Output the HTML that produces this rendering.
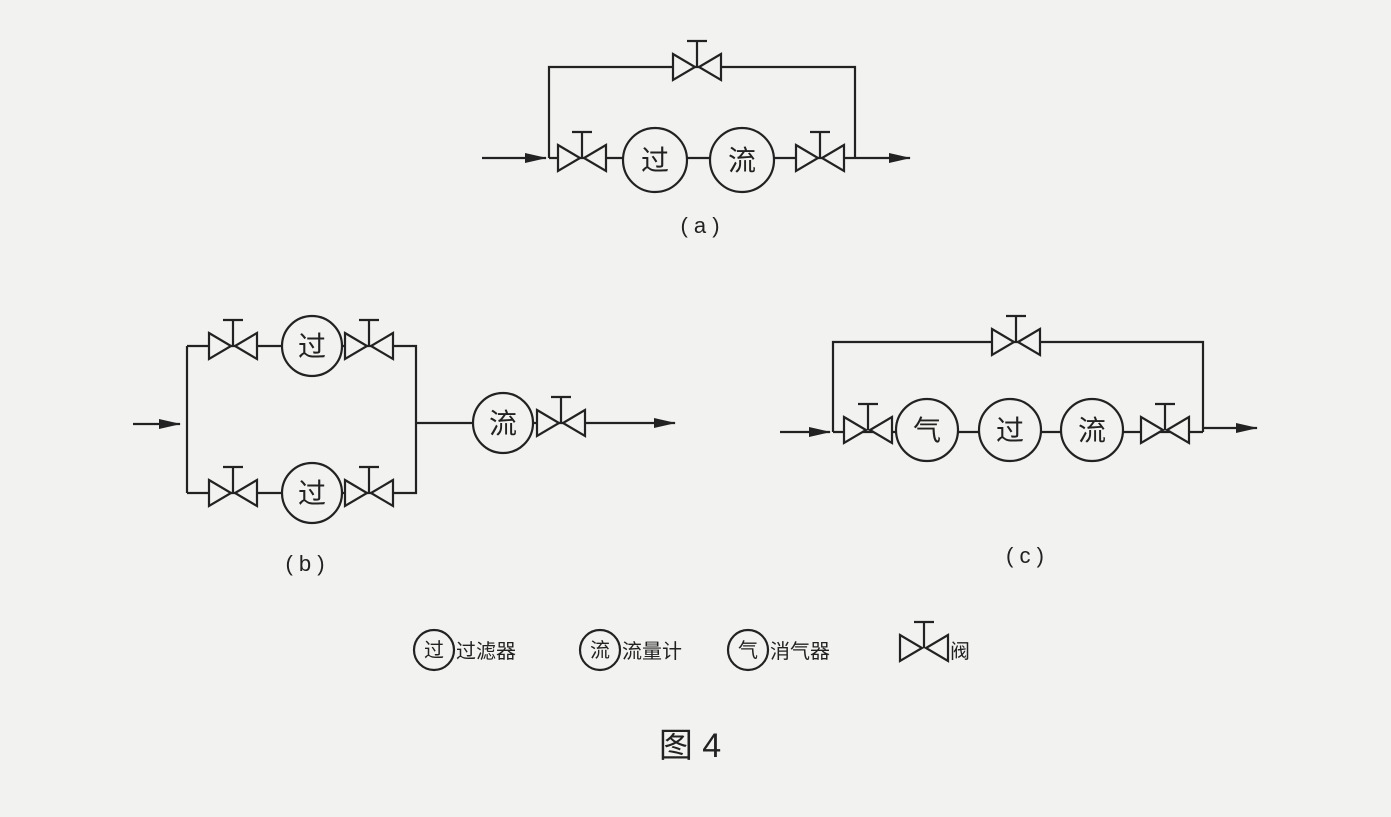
<!DOCTYPE html>
<html><head><meta charset="utf-8"><style>
html,body{margin:0;padding:0;background:#f2f2f0;}
svg{display:block}
text{font-family:"Liberation Sans","Noto Sans CJK SC",sans-serif;fill:#222}
</style></head><body>
<svg width="1391" height="817" viewBox="0 0 1391 817" xmlns="http://www.w3.org/2000/svg">
<defs>
<g id="v" stroke="#222" stroke-width="2.2" fill="#f2f2f0">
<path d="M-24,-13 L-2,0 L-24,13 Z"/><path d="M24,-13 L2,0 L24,13 Z"/>
<path d="M0,0 L0,-26 M-10,-26 L10,-26" fill="none"/>
</g>
<marker id="ar" markerWidth="22" markerHeight="10" refX="21" refY="5" orient="auto" markerUnits="userSpaceOnUse"><path d="M0,0 L22,5 L0,10 Z" fill="#222"/></marker>
</defs>
<rect width="1391" height="817" fill="#f2f2f0"/>
<g stroke="#222" stroke-width="2.2" fill="none">
<line x1="482" y1="158" x2="546" y2="158" marker-end="url(#ar)"/>
<path d="M549,158 V67 H855 V158"/>
<line x1="549" y1="158" x2="855" y2="158"/>
<line x1="855" y1="158" x2="910" y2="158" marker-end="url(#ar)"/>
<line x1="133" y1="424" x2="180" y2="424" marker-end="url(#ar)"/>
<path d="M187,346 V493 M187,346 H416 V493 H187 M416,423 H610"/>
<line x1="610" y1="423" x2="675" y2="423" marker-end="url(#ar)"/>
<line x1="780" y1="432" x2="830" y2="432" marker-end="url(#ar)"/>
<path d="M833,432 V342 H1203 V432 M833,432 H1203"/>
<line x1="1203" y1="428" x2="1257" y2="428" marker-end="url(#ar)"/>
</g>
<use href="#v" x="697" y="67"/><use href="#v" x="582" y="158"/><use href="#v" x="820" y="158"/>
<use href="#v" x="233" y="346"/><use href="#v" x="369" y="346"/>
<use href="#v" x="233" y="493"/><use href="#v" x="369" y="493"/>
<use href="#v" x="561" y="423"/>
<use href="#v" x="1016" y="342"/><use href="#v" x="868" y="430"/><use href="#v" x="1165" y="430"/>
<g stroke="#222" stroke-width="2.2" fill="#f2f2f0">
<circle cx="655" cy="160" r="32"/><circle cx="742" cy="160" r="32"/>
<circle cx="312" cy="346" r="30"/><circle cx="312" cy="493" r="30"/>
<circle cx="503" cy="423" r="30"/>
<circle cx="927" cy="430" r="31"/><circle cx="1010" cy="430" r="31"/><circle cx="1092" cy="430" r="31"/>
<circle cx="434" cy="650" r="20"/><circle cx="600" cy="650" r="20"/><circle cx="748" cy="650" r="20"/>
</g>
<g font-size="28" text-anchor="middle">
<text x="655" y="170">过</text><text x="742" y="170">流</text>
<text x="312" y="356">过</text><text x="312" y="503">过</text><text x="503" y="433">流</text>
<text x="927" y="440">气</text><text x="1010" y="440">过</text><text x="1092" y="440">流</text>
</g>
<g font-size="22" text-anchor="middle">
<text x="700" y="233">(  a  )</text><text x="305" y="571">(  b  )</text><text x="1025" y="563">(  c  )</text>
</g>
<g font-size="20">
<text x="424" y="657">过</text><text x="456" y="658">过滤器</text>
<text x="590" y="657">流</text><text x="622" y="658">流量计</text>
<text x="738" y="657">气</text><text x="770" y="658">消气器</text>
<text x="950" y="658">阀</text>
</g>
<use href="#v" x="924" y="648"/>
<text x="690" y="757" font-size="34" text-anchor="middle">图 4</text>
</svg>
</body></html>
